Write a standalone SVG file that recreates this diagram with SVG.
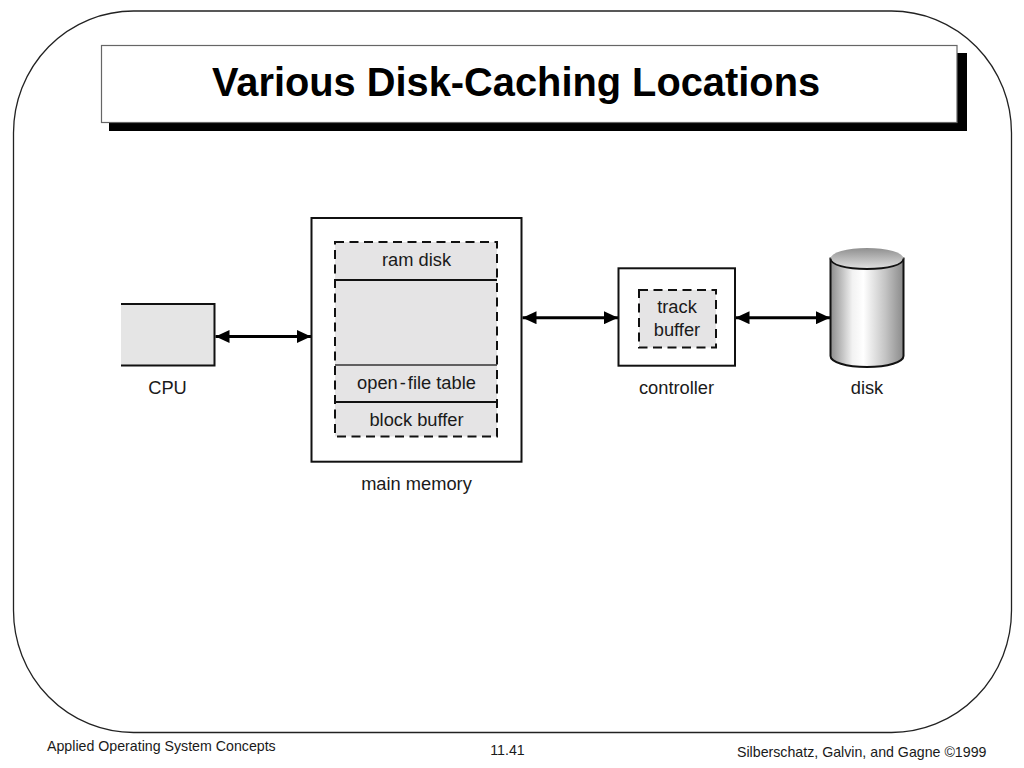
<svg xmlns="http://www.w3.org/2000/svg" width="1024" height="768" viewBox="0 0 1024 768">
<style>
text{font-family:"Liberation Sans",Arial,sans-serif;fill:#1a1a1a;font-size:18.300px;text-anchor:middle}
.box{fill:#fff;stroke:#111;stroke-width:2}
.dash{fill:#e5e4e5;stroke:none}
.dl{fill:none;stroke:#111;stroke-width:2;stroke-dasharray:9 5.5}
.sep{stroke:#111;stroke-width:2}
.conn{stroke:#000;stroke-width:3;fill:none;marker-start:url(#a);marker-end:url(#a)}
.foot{font-size:14.200px}
</style>
<defs>
<marker id="a" markerUnits="userSpaceOnUse" markerWidth="15" markerHeight="13" refX="14" refY="6.500" orient="auto-start-reverse"><path d="M0 0L14 6.500L0 13Z" fill="#000"/></marker>
<linearGradient id="side" x1="0" x2="1" y1="0" y2="0"><stop offset="0" stop-color="#8c8c8c"/><stop offset=".3" stop-color="#f2f2f2"/><stop offset=".45" stop-color="#fff"/><stop offset=".75" stop-color="#c4c4c4"/><stop offset="1" stop-color="#8a8a8a"/></linearGradient>
<linearGradient id="top" x1="0" x2="0" y1="0" y2="1"><stop offset="0" stop-color="#8f8f8f"/><stop offset="1" stop-color="#e2e2e2"/></linearGradient>
</defs>
<rect id="frame" x="13.500" y="11" width="998" height="721.500" rx="120" ry="122" fill="#fff" stroke="#222" stroke-width="1.300"/>
<g id="title">
<rect x="109" y="53" width="858" height="78" fill="#000"/>
<rect x="101.500" y="45.500" width="855.500" height="77" fill="#fff" stroke="#666" stroke-width="1.200"/>
<text x="516" y="96" style="font-size:39.800px;font-weight:700;fill:#000">Various Disk-Caching Locations</text>
</g>
<g id="connectors">
<line class="conn" x1="215.500" y1="336.500" x2="311" y2="336.500"/>
<line class="conn" x1="522.500" y1="317.700" x2="618" y2="317.700"/>
<line class="conn" x1="735.500" y1="317.700" x2="830" y2="317.700"/>
</g>
<g id="cpu">
<rect x="121" y="304" width="93.500" height="61.500" fill="#e5e5e5"/>
<path d="M121 304H214.500V365.500H121" fill="none" stroke="#111" stroke-width="2"/>
<text x="167.500" y="393.500">CPU</text>
</g>
<g id="main-memory">
<rect class="box" x="311.500" y="218" width="210" height="243.700"/>
<rect class="dash" x="335" y="242" width="162" height="194.500"/>
<rect class="dl" x="335" y="242" width="162" height="194.500"/>
<line class="sep" x1="335" y1="280" x2="497" y2="280"/>
<line x1="335" y1="365" x2="497" y2="365" stroke="#333" stroke-width="1.400"/>
<line class="sep" x1="335" y1="402" x2="497" y2="402"/>
<text x="416.500" y="266">ram disk</text>
<text x="416.500" y="389">open<tspan dx="2">-</tspan><tspan dx="2">file table</tspan></text>
<text x="416.500" y="426">block buffer</text>
<text x="416.500" y="490">main memory</text>
</g>
<g id="controller">
<rect class="box" x="618.500" y="268.300" width="116.500" height="97.400"/>
<rect class="dash" x="639" y="290" width="77" height="57.500"/>
<rect class="dl" x="639" y="290" width="77" height="57.500"/>
<text x="677" y="313">track</text>
<text x="677" y="336">buffer</text>
<text x="676.500" y="393.500">controller</text>
</g>
<g id="disk">
<path d="M830.500 258.500V356C830.500 362 846 367 867 367S903.500 362 903.500 356V258.500Z" fill="url(#side)" stroke="#111" stroke-width="2"/>
<ellipse cx="867" cy="258.500" rx="36.500" ry="10.500" fill="url(#top)" stroke="none"/>
<path d="M830.500 258.500C830.500 265 846 269 867 269S903.500 265 903.500 258.500" fill="none" stroke="#111" stroke-width="1.800"/>
<text x="867" y="393.500">disk</text>
</g>
<g id="footer">
<text class="foot" x="47" y="751" style="text-anchor:start">Applied Operating System Concepts</text>
<text class="foot" x="507.500" y="755">11.41</text>
<text class="foot" x="737" y="757" style="text-anchor:start">Silberschatz, Galvin, and Gagne ©1999</text>
</g>
</svg>
